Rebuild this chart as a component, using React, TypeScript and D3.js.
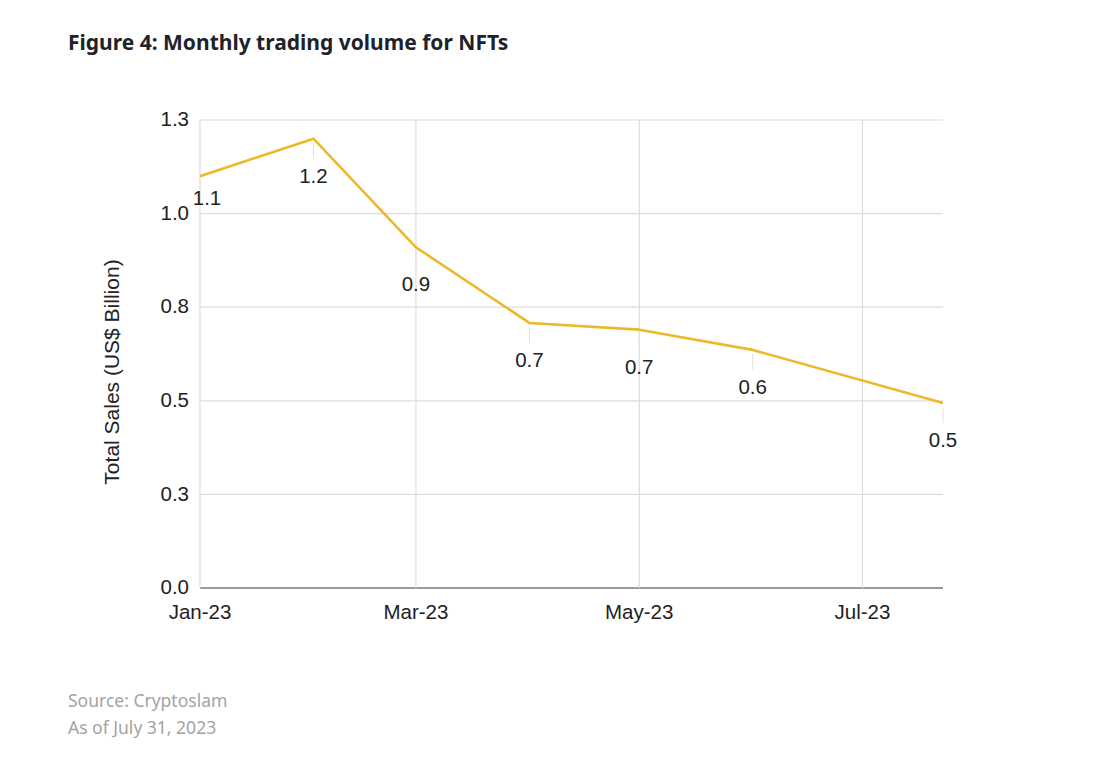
import React from "react";
import * as d3 from "d3";

// Monthly NFT trading volume, US$ billion
const dates = ["2023-01-01", "2023-02-01", "2023-03-01", "2023-04-01", "2023-05-01", "2023-06-01", "2023-07-23"];
const values = [1.1, 1.2, 0.91, 0.708, 0.69, 0.636, 0.494];
const labels = ["1.1", "1.2", "0.9", "0.7", "0.7", "0.6", "0.5"];
const yTicks = [0, 0.25, 0.5, 0.75, 1.0, 1.25];
const xTicks = ["2023-01-01", "2023-03-01", "2023-05-01", "2023-07-01"];

const W = 1108;
const H = 758;
const margin = { top: 120, right: 165, bottom: 170, left: 200 };

const parse = d3.timeParse("%Y-%m-%d");

const App = () => {
  const points = dates.map((d, i) => ({ date: parse(d) as Date, value: values[i], label: labels[i] }));

  const x = d3.scaleTime()
    .domain([points[0].date, points[points.length - 1].date])
    .range([margin.left, W - margin.right]);

  const y = d3.scaleLinear()
    .domain([0, 1.25])
    .range([H - margin.bottom, margin.top]);

  const line = d3.line<any>()
    .x(d => x(d.date))
    .y(d => y(d.value));

  const fmtY = d3.format(".1f");
  const fmtX = d3.timeFormat("%b-%y");
  const axisFont = "'Liberation Sans', Arial, sans-serif";
  const fs = 20.5;

  return (
    <svg width={W} height={H} style={{ position: "absolute", left: 0, top: 0, background: "#fff" }}>
      <text x={68} y={50} fontFamily="'Noto Sans', sans-serif" fontWeight="bold" fontSize={21} fill="#1e2329">
        Figure 4: Monthly trading volume for NFTs
      </text>

      {/* horizontal grid */}
      {yTicks.map(t => (
        <line key={"h" + t} x1={margin.left} x2={W - margin.right} y1={y(t)} y2={y(t)}
          stroke={t === 0 ? "#9a9a9a" : "#dcdcdc"} strokeWidth={t === 0 ? 2 : 1.2} />
      ))}
      {/* vertical grid */}
      {xTicks.map(t => (
        <line key={"v" + t} x1={x(parse(t) as Date)} x2={x(parse(t) as Date)} y1={margin.top} y2={y(0)}
          stroke="#dcdcdc" strokeWidth={1.2} />
      ))}

      {/* y tick labels */}
      {yTicks.map(t => (
        <text key={"yl" + t} x={margin.left - 11} y={y(t)} dy="0.3em" textAnchor="end"
          fontFamily={axisFont} fontSize={fs} fill="#222">
          {fmtY(t)}
        </text>
      ))}
      {/* x tick labels */}
      {xTicks.map(t => (
        <text key={"xl" + t} x={x(parse(t) as Date)} y={y(0) + 31} textAnchor="middle"
          fontFamily={axisFont} fontSize={fs} fill="#222">
          {fmtX(parse(t) as Date)}
        </text>
      ))}

      <text transform={`translate(119,${(margin.top + y(0)) / 2 + 18}) rotate(-90)`} textAnchor="middle"
        fontFamily={axisFont} fontSize={21} fill="#222">
        Total Sales (US$ Billion)
      </text>

      {/* leader lines */}
      {points.map((p, i) => (
        <line key={"ll" + i} x1={x(p.date)} x2={x(p.date)} y1={y(p.value) + 4} y2={y(p.value) + (i === 0 ? 8 : 20)}
          stroke="#e2e2e2" strokeWidth={1} />
      ))}

      <path d={line(points) as string} fill="none" stroke="#EDB82A" strokeWidth={2.6} strokeLinejoin="round" />

      {/* data labels */}
      {points.map((p, i) => (
        <text key={"dl" + i} x={x(p.date) + (i === 0 ? 7 : 0)} y={y(p.value) + (i === 0 ? 22 : 37)} dy="0.35em"
          textAnchor="middle" fontFamily={axisFont} fontSize={fs} fill="#222">
          {p.label}
        </text>
      ))}

      <text x={68} y={707} fontFamily="'Noto Sans', sans-serif" fontSize={17.5} fill="#a3a3a3">Source: Cryptoslam</text>
      <text x={68} y={734} fontFamily="'Noto Sans', sans-serif" fontSize={17.5} fill="#a3a3a3">As of July 31, 2023</text>
    </svg>
  );
};

export default App;
